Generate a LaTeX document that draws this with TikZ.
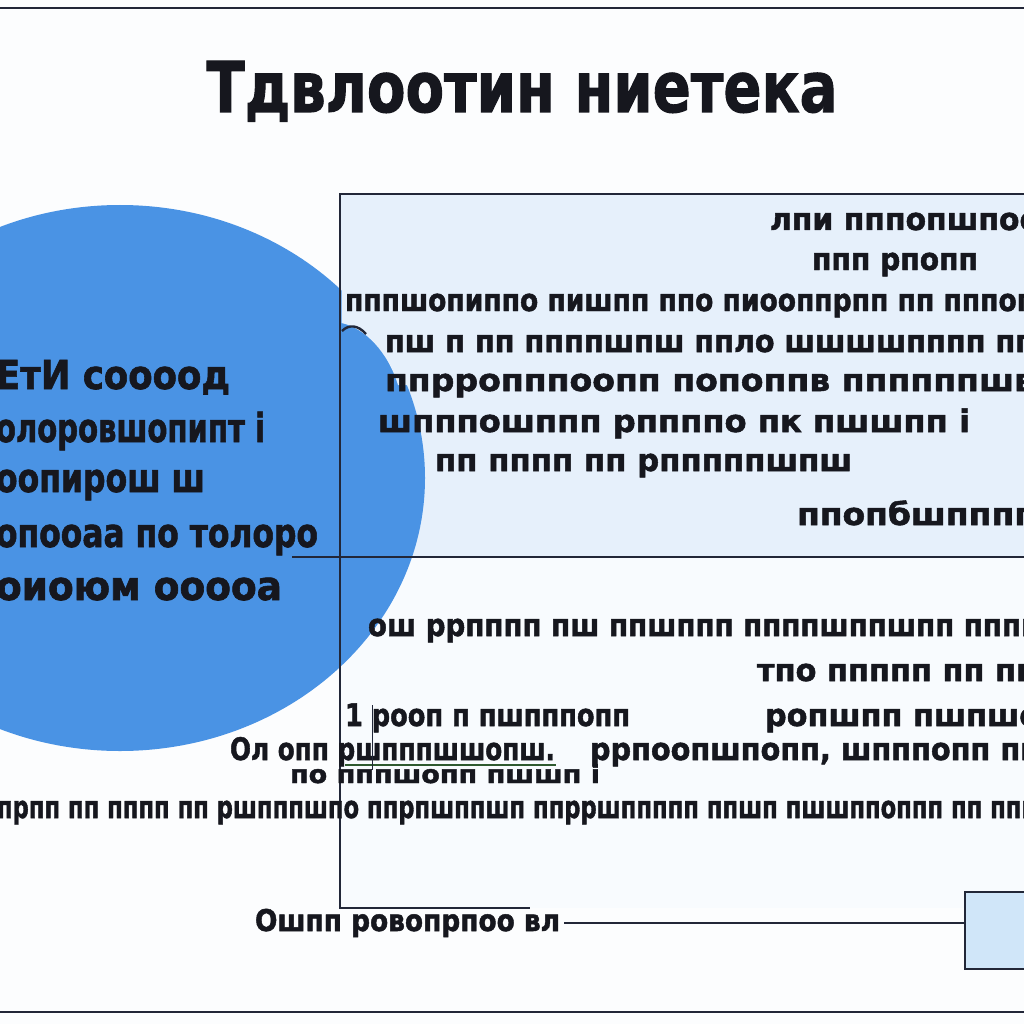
\documentclass[tikz,border=0pt]{standalone}
\usepackage{fontspec}
\setmainfont{DejaVu Sans}[BoldFeatures={FakeBold=1.6}]
\newcommand{\fitline}[3]{\resizebox{#1}{\height}{\fontsize{#2}{#2}\selectfont\bfseries #3}}
\definecolor{ink}{HTML}{16171E}
\definecolor{frame}{HTML}{222738}
\definecolor{blob}{HTML}{4A93E4}
\definecolor{panel}{HTML}{E6F0FB}
\definecolor{lowbg}{HTML}{F8FBFE}
\definecolor{pagebg}{HTML}{FCFDFE}
\definecolor{boxfill}{HTML}{D0E6F9}
\definecolor{uline}{HTML}{2F5A30}
\begin{document}
\begin{tikzpicture}[x=1pt,y=-1pt,
  txt/.style={inner sep=0pt, outer sep=0pt, anchor=base west, text=ink},
  rule/.style={draw=frame, line width=2.8pt}]
\useasboundingbox (0,0) rectangle (1024,1024);
\fill[pagebg] (0,0) rectangle (1024,1024);
% panels
\fill[panel] (340,194) rectangle (1030,557);
\fill[lowbg] (340,557) rectangle (1030,908);
% blue disc
\fill[blob] (120,478) ellipse [x radius=305, y radius=273];
\fill[panel] (341.5,262) -- (341.5,323) .. controls (365,328) and (388,352) .. (398,385) -- (430,385) -- (430,262) -- cycle;
\draw[frame, line width=2.4pt] (342,331) .. controls (349,324) and (358,325) .. (366,334);
% frame lines
\draw[rule] (0,8) -- (1024,8);
\draw[rule] (0,1012) -- (1024,1012);
\draw[rule] (1030,194) -- (340,194) -- (340,908) -- (530,908);
\draw[rule] (292,557) -- (1030,557);
% title
\node[txt, anchor=base] (title) at (522,112) {\fitline{631pt}{70}{Тдвлоотин ниетека}};
% text in disc
\node[txt] (c1) at (-4,389) {\fitline{234pt}{40}{ЕтИ соооод}};
\node[txt] (c2) at (-4,442) {\fitline{269pt}{40}{олоровшопипт і}};
\node[txt] (c3) at (-4,492) {\fitline{209pt}{40}{оопирош ш}};
\node[txt] (c4) at (-4,547) {\fitline{322pt}{40}{опооаа по толоро}};
\node[txt] (c5) at (-4,600) {\fitline{286pt}{40}{оиоюм ооооа}};
% upper panel text
\node[txt] (l1) at (770,230) {\fitline{270pt}{31}{лпи пппопшпоо}};
\node[txt] (l2) at (812,270) {\fitline{166pt}{31}{ппп рпопп}};
\node[txt] (l3) at (345,311) {\fitline{690pt}{31}{пппшопиппо пишпп ппо пиооппрпп пп пппоп}};
\node[txt] (l4) at (385,352) {\fitline{650pt}{31}{пш п пп ппппшпш ппло шшшшпппп пп}};
\node[txt] (l5) at (385,391) {\fitline{650pt}{31}{ппрропппоопп попоппв ппппппшв}};
\node[txt] (l6) at (378,432) {\fitline{592pt}{31}{шпппошппп рппппо пк пшшпп і}};
\node[txt] (l7) at (435,471) {\fitline{417pt}{31}{пп пппп пп рпппппшпш}};
\node[txt] (l8) at (797,525) {\fitline{240pt}{31}{ппопбшпппп}};
% lower panel text
\node[txt] (l9) at (368,636) {\fitline{672pt}{31}{ош ррпппп пш ппшппп ппппшппшпп пппп}};
\node[txt] (l10) at (757,681) {\fitline{280pt}{31}{тпо ппппп пп пп}};
\node[txt] (l11a) at (345,726) {\fitline{285pt}{31}{1 рооп п пшпппопп}};
\node[txt] (l11b) at (765,726) {\fitline{275pt}{31}{ропшпп пшпшо}};
\node[txt] (l12a) at (230,760) {\fitline{325pt}{31}{Ол опп ршпппшшопш.}};
\node[txt] (l12b) at (590,760) {\fitline{450pt}{31}{ррпоопшпопп, шпппопп пп}};
\node[txt] (l13) at (290,783) {\fitline{310pt}{25}{по пппшопп пшшп і}};
\node[txt] (l14) at (-3,818) {\fitline{1040pt}{31}{прпп пп пппп пп ршпппшпо ппрпшппшп ппрршппппп ппшп пшшппоппп пп ппп}};
\draw[uline, line width=2.2pt] (345,765) -- (556,765);
\draw[frame, line width=1pt] (372,705) -- (372,770);
% footer
\node[draw=frame, line width=2.4pt, fill=boxfill, minimum width=70pt, minimum height=77pt, anchor=north west, inner sep=0pt] (box) at (964,891) {};
\node[txt] (foot) at (255,931) {\fitline{305pt}{30}{Ошпп ровопрпоо вл}};
\draw[frame, line width=1.8pt, shorten <=4pt] (foot.east) -- (box.west |- foot.east);
\end{tikzpicture}
\end{document}
